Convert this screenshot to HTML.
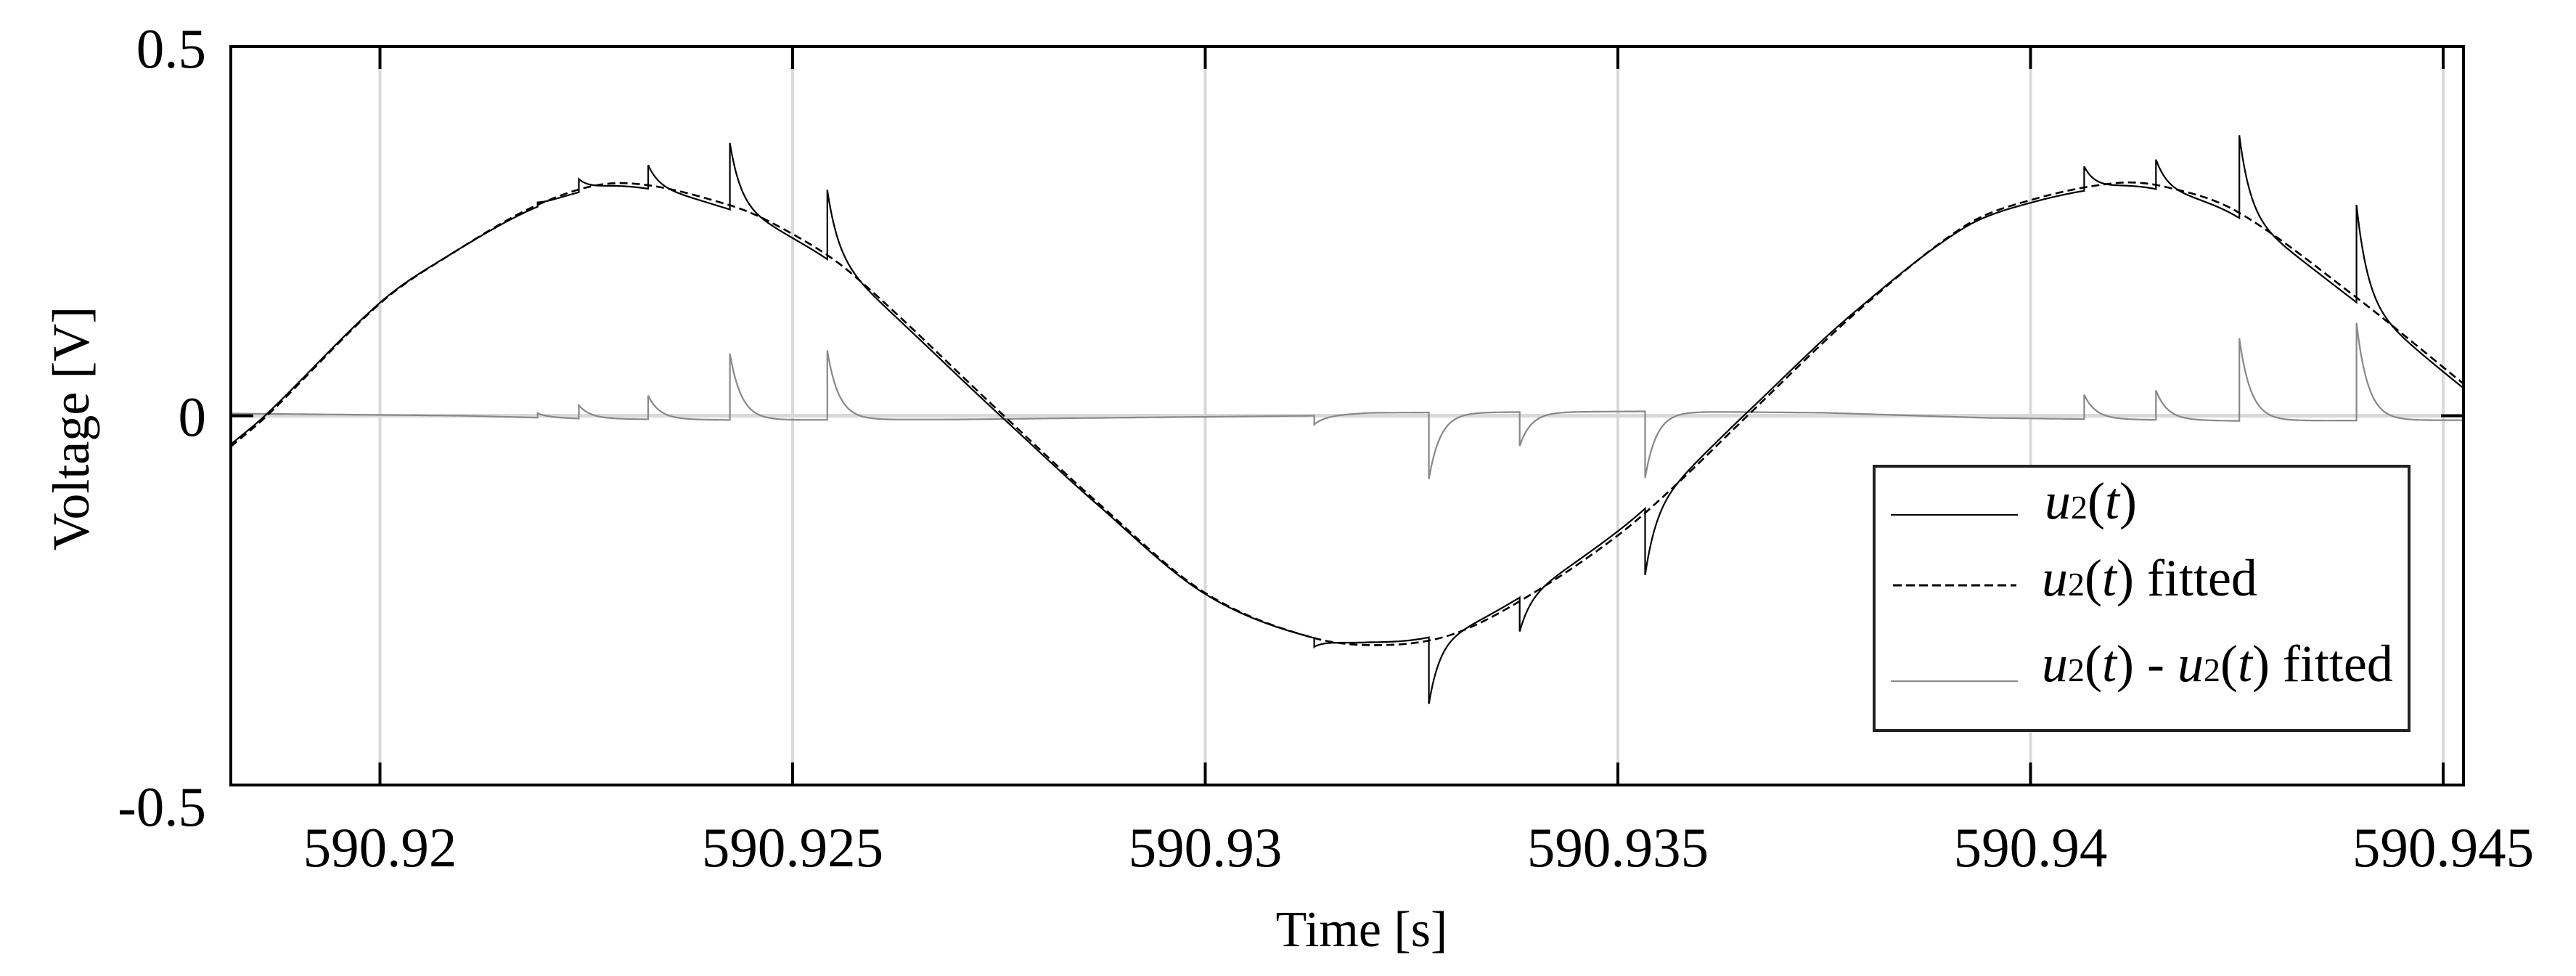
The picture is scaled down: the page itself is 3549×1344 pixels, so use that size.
<!DOCTYPE html>
<html><head><meta charset="utf-8"><style>
html,body{margin:0;padding:0;background:#fff;}
svg{display:block;}
text{font-family:"Liberation Serif",serif;fill:#000;}
</style></head><body>
<svg id="chart" width="3549" height="1344" viewBox="0 0 3549 1344" xmlns="http://www.w3.org/2000/svg" font-family="Liberation Serif, serif">
<defs><clipPath id="plotclip"><rect x="318" y="64" width="3076" height="1017"/></clipPath></defs>
<g id="grid"></g>
<g id="series" clip-path="url(#plotclip)"></g>
<g id="axes"></g>
<text x="1876" y="1303" font-size="70" text-anchor="middle">Time [s]</text>
<text transform="translate(122,590) rotate(-90)" font-size="72" text-anchor="middle">Voltage [V]</text>
<g>
<rect x="2582" y="642" width="737" height="364" fill="#fff" stroke="#222" stroke-width="4"/>
<line x1="2605" y1="709" x2="2780" y2="709" stroke="#000" stroke-width="2"/>
<text x="2817" y="714" font-size="72"><tspan font-style="italic">u</tspan><tspan font-size="46">2</tspan>(<tspan font-style="italic">t</tspan>)</text>
<line x1="2608" y1="806" x2="2778" y2="806" stroke="#000" stroke-width="3" stroke-dasharray="12,6"/>
<text x="2813" y="820" font-size="72"><tspan font-style="italic">u</tspan><tspan font-size="46">2</tspan>(<tspan font-style="italic">t</tspan>) fitted</text>
<line x1="2605" y1="938" x2="2780" y2="938" stroke="#888" stroke-width="2"/>
<text x="2813" y="938" font-size="72"><tspan font-style="italic">u</tspan><tspan font-size="46">2</tspan>(<tspan font-style="italic">t</tspan>) - <tspan font-style="italic">u</tspan><tspan font-size="46">2</tspan>(<tspan font-style="italic">t</tspan>) fitted</text>
</g>
</svg>
<script>
// ---- data ----
const xTicks = [590.92, 590.925, 590.93, 590.935, 590.94, 590.945];
const xTickLabels = ["590.92", "590.925", "590.93", "590.935", "590.94", "590.945"];
const yTicks = [0.5, 0, -0.5];
const yTickLabels = ["0.5", "0", "-0.5"];
const fitTimes = [590.91819,590.91863,590.92,590.92082,590.92196,590.92292,590.92424,590.925,590.92572,590.92756,590.92869,590.93,590.93132,590.93228,590.93307,590.93402,590.935,590.93569,590.93657,590.93788,590.93919,590.94,590.94103,590.94163,590.94251,590.94395,590.94525];
const fitValues = [-0.042,0,0.152,0.216,0.288,0.315,0.285,0.246,0.192,0,-0.117,-0.240,-0.301,-0.310,-0.293,-0.237,-0.162,-0.095,0,0.139,0.256,0.292,0.315,0.310,0.276,0.160,0.043];
const baseTimes = [590.9182,590.921,590.9224,590.9245,590.927,590.9295,590.9313,590.932,590.9355,590.9375,590.9395,590.9425,590.94525];
const baseValues = [0.003,0.0,-0.004,-0.006,-0.005,-0.002,0.0,0.004,0.006,0.004,-0.003,-0.007,-0.006];
const spikeTimes = [590.92191,590.92241,590.92325,590.92424,590.92542,590.93132,590.93271,590.93381,590.93533,590.94065,590.94152,590.94253,590.94395];
const spikeHeights = [0.006,0.018,0.032,0.090,0.094,-0.012,-0.090,-0.046,-0.090,0.033,0.040,0.112,0.132];
const spikeTau = 0.00014;

// ---- scales ----
const X0=318, X1=3394, Y0=64, Y1=1081;
const TMIN=590.918193, TMAX=590.94525;
const xs = t => 523.5 + (t-590.92)/0.005*568.5;
const ys = v => 572.5 - v*1017;
const NS="http://www.w3.org/2000/svg";
function mk(tag, attrs, parent){const e=document.createElementNS(NS,tag);for(const k in attrs)e.setAttribute(k,attrs[k]);parent.appendChild(e);return e;}

const grid=document.getElementById('grid'), axes=document.getElementById('axes'), series=document.getElementById('series');

xTicks.forEach((t,i)=>{
  const g=mk('line',{x1:xs(t),x2:xs(t),y1:Y0,y2:Y1,stroke:'#d9d9d9','stroke-width':4},grid);
  
  
});
const hz=mk('line',{x1:X0,x2:X1,y1:ys(0),y2:ys(0),stroke:'#d9d9d9','stroke-width':5},grid);



function interp(ts, vs, t){
  if(t<=ts[0])return vs[0]; if(t>=ts[ts.length-1])return vs[vs.length-1];
  let i=0; while(ts[i+1]<t)i++;
  const p0=vs[Math.max(i-1,0)],p1=vs[i],p2=vs[i+1],p3=vs[Math.min(i+2,vs.length-1)];
  const t0=ts[Math.max(i-1,0)],t1=ts[i],t2=ts[i+1],t3=ts[Math.min(i+2,ts.length-1)];
  const h=t2-t1, u=(t-t1)/h;
  const m1=(p2-p0)/((t2-t0)||h)*h, m2=(p3-p1)/((t3-t1)||h)*h;
  const u2=u*u,u3=u2*u;
  return (2*u3-3*u2+1)*p1+(u3-2*u2+u)*m1+(-2*u3+3*u2)*p2+(u3-u2)*m2;
}
function linInterp(ts,vs,t){
  if(t<=ts[0])return vs[0]; if(t>=ts[ts.length-1])return vs[vs.length-1];
  let i=0; while(ts[i+1]<t)i++;
  return vs[i]+(vs[i+1]-vs[i])*(t-ts[i])/(ts[i+1]-ts[i]);
}
function resid(t){
  let r=linInterp(baseTimes,baseValues,t);
  for(let k=0;k<spikeTimes.length;k++){const d=t-spikeTimes[k]; if(d>=0) r+=spikeHeights[k]*Math.exp(-d/spikeTau);}
  return r;
}
let T=[]; const step=0.000003;
for(let t=TMIN;t<=TMAX;t+=step)T.push(t);
spikeTimes.forEach(s=>{T.push(s-1e-8);T.push(s);});
T.sort((a,b)=>a-b);

let dFit='',dRes='',dU='';
T.forEach((t,i)=>{
  const f=interp(fitTimes,fitValues,t), r=resid(t);
  const c=i?'L':'M', x=xs(t).toFixed(1);
  dFit+=c+x+','+ys(f).toFixed(1);
  dRes+=c+x+','+ys(r).toFixed(1);
  dU+=c+x+','+ys(f+r).toFixed(1);
});
const pr=mk('path',{d:dRes,fill:'none',stroke:'#888','stroke-width':2.2},series);


const pu=mk('path',{d:dU,fill:'none',stroke:'#000','stroke-width':2.2},series);


const pf=mk('path',{d:dFit,fill:'none',stroke:'#000','stroke-width':2.6,'stroke-dasharray':'11,6'},series);



const fr=mk('rect',{x:X0,y:Y0,width:X1-X0,height:Y1-Y0,fill:'none',stroke:'#000','stroke-width':4},axes);


xTicks.forEach((t,i)=>{
  const a=mk('line',{x1:xs(t),x2:xs(t),y1:Y1,y2:Y1-31,stroke:'#000','stroke-width':4},axes);
  
  
  const b=mk('line',{x1:xs(t),x2:xs(t),y1:Y0,y2:Y0+31,stroke:'#000','stroke-width':4},axes);
  
  
  const l=mk('text',{x:xs(t),y:1193,'font-size':77,'text-anchor':'middle','font-family':'Liberation Serif, serif'},axes);
  l.textContent=xTickLabels[i];
  
  
});
const yBase=[93,600,1137];
yTicks.forEach((v,i)=>{
  const a=mk('line',{x1:X0,x2:X0+31,y1:ys(v),y2:ys(v),stroke:'#000','stroke-width':4},axes);
  
  
  const b=mk('line',{x1:X1,x2:X1-31,y1:ys(v),y2:ys(v),stroke:'#000','stroke-width':4},axes);
  
  
  const l=mk('text',{x:284,y:yBase[i],'font-size':77,'text-anchor':'end','font-family':'Liberation Serif, serif'},axes);
  l.textContent=yTickLabels[i];
  
  
});
</script>
</body></html>
